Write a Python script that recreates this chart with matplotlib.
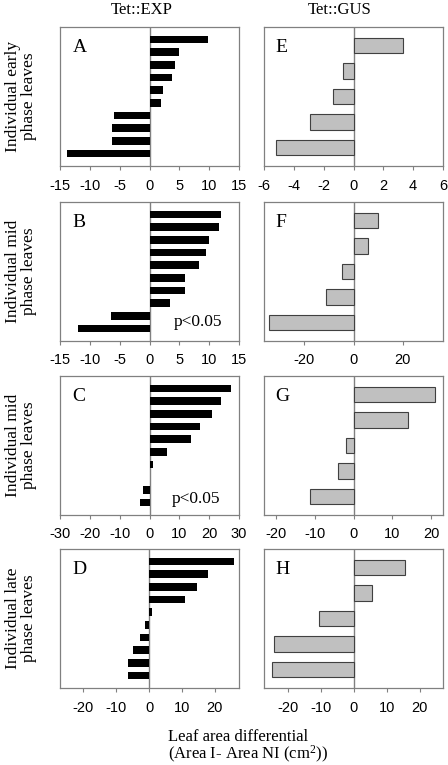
import numpy as np
import matplotlib.pyplot as plt

# -------------------------------
# Daten (von oben nach unten)
# -------------------------------
exp_a = [9.8, 5.0, 4.2, 3.8, 2.3, 1.9, -5.9, -6.3, -6.3, -13.9]
exp_b = [12.0, 11.7, 9.9, 9.4, 8.3, 5.9, 5.9, 3.4, -6.4, -12.0]
exp_c = [27.3, 24.0, 21.0, 17.0, 14.0, 6.0, 1.1, 0.0, -2.1, -3.1]
exp_d = [25.9, 18.0, 14.6, 10.9, 1.0, -1.3, -2.7, -4.8, -6.3, -6.5]

gus_e = [3.3, -0.7, -1.4, -2.9, -5.2]
gus_f = [10.0, 6.1, -4.5, -11.2, -34.3]
gus_g = [21.0, 14.1, -1.9, -4.0, -11.1]
gus_h = [15.6, 5.6, -10.7, -24.3, -24.8]

letters_left = ['A', 'B', 'C', 'D']
letters_right = ['E', 'F', 'G', 'H']
row_labels = ['Individual early\nphase leaves', 'Individual mid\nphase leaves',
              'Individual mid\nphase leaves', 'Individual late\nphase leaves']
col_titles = ['Tet::EXP', 'Tet::GUS']

xlims_left = [(-15, 15), (-15, 15), (-30, 30), (-27, 27.3)]
xlims_right = [(-6, 6), (-36.5, 36.5), (-23, 23), (-27.3, 27)]
ticks_left = [np.arange(-15, 16, 5), np.arange(-15, 16, 5),
              np.arange(-30, 31, 10), np.arange(-20, 21, 10)]
ticks_right = [np.arange(-6, 7, 2), [-20, 0, 20],
               np.arange(-20, 21, 10), np.arange(-20, 21, 10)]

# -------------------------------
# Plot-Einstellungen
# -------------------------------
SERIF = 'Liberation Serif'
SANS = 'Liberation Sans'
plt.rcParams['mathtext.fontset'] = 'custom'
plt.rcParams['mathtext.rm'] = SERIF
plt.rcParams['mathtext.it'] = SERIF

W, H = 448, 765
fig = plt.figure(figsize=(W / 100, H / 100), dpi=100)

tops = [27, 202, 376, 549]
ax_h = 139
ax_w = 179
lefts = [60, 264]
spine_col = '#808080'


def style_axes(ax, xlim, ticks):
    ax.set_xlim(*xlim)
    ax.set_xticks(ticks)
    ax.set_xticklabels([str(t) for t in ticks], fontfamily=SANS, fontsize=10.5)
    ax.set_yticks([])
    ax.tick_params(axis='x', direction='out', length=3, width=0.8,
                   color=spine_col, pad=6)
    for s in ax.spines.values():
        s.set_color(spine_col)
        s.set_linewidth(0.9)
    ax.axvline(0, color=spine_col, lw=1.0, zorder=1)


left_data = [exp_a, exp_b, exp_c, exp_d]
right_data = [gus_e, gus_f, gus_g, gus_h]

for i in range(4):
    bottom = 1 - (tops[i] + ax_h) / H

    # linke Spalte (Tet::EXP)
    ax = fig.add_axes([lefts[0] / W, bottom, ax_w / W, ax_h / H])
    vals = left_data[i]
    y = np.arange(len(vals))[::-1]
    ax.barh(y, vals, height=0.6, color='black', zorder=2)
    ax.set_ylim(-1, len(vals))
    style_axes(ax, xlims_left[i], ticks_left[i])
    ax.text(0.07, 0.85, letters_left[i], transform=ax.transAxes,
            fontfamily=SERIF, fontsize=14, va='center', ha='left')
    if i == 1:
        ax.text(0.905, 0.138, 'p<0.05', transform=ax.transAxes,
                fontfamily=SERIF, fontsize=12.5, va='center', ha='right')
    if i == 2:
        ax.text(0.894, 0.116, 'p<0.05', transform=ax.transAxes,
                fontfamily=SERIF, fontsize=12.5, va='center', ha='right')

    # rechte Spalte (Tet::GUS)
    ax = fig.add_axes([lefts[1] / W, bottom, ax_w / W, ax_h / H])
    vals = right_data[i]
    y = np.arange(len(vals))[::-1]
    ax.barh(y, vals, height=0.6, color='#c0c0c0', edgecolor='#404040',
            linewidth=0.8, zorder=2)
    ax.set_ylim(-0.72, len(vals) - 0.28)
    style_axes(ax, xlims_right[i], ticks_right[i])
    ax.text(0.065, 0.85, letters_right[i], transform=ax.transAxes,
            fontfamily=SERIF, fontsize=14, va='center', ha='left')

    # Zeilenbeschriftung
    fig.text(21 / W, 1 - (tops[i] + ax_h / 2) / H, row_labels[i],
             rotation=90, ha='center', va='center', multialignment='center',
             fontfamily=SERIF, fontsize=12.5, linespacing=1.05)

# Spaltentitel
fig.text(142 / W, 1 - 10 / H, col_titles[0], ha='center', va='center',
         fontfamily=SERIF, fontsize=12)
fig.text(340 / W, 1 - 10 / H, col_titles[1], ha='center', va='center',
         fontfamily=SERIF, fontsize=12)

# x-Achsenbeschriftung
fig.text(168 / W, 1 - 729 / H,
         'Leaf area differential\n(Area I- Area NI (cm$^{2}$))',
         ha='left', va='top', multialignment='left',
         fontfamily=SERIF, fontsize=12, linespacing=0.95)

fig.savefig('out.png', dpi=100)
plt.close(fig)
